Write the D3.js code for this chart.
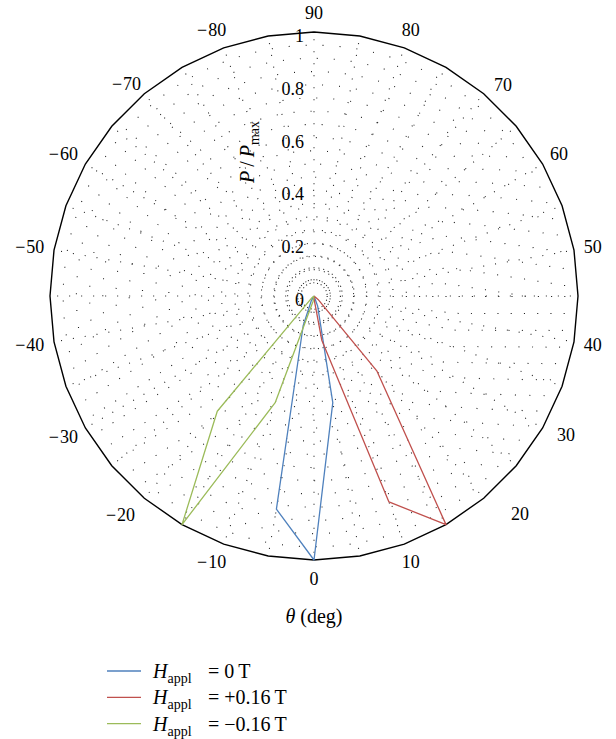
<!DOCTYPE html>
<html>
<head>
<meta charset="utf-8">
<script src="https://cdn.jsdelivr.net/npm/d3@7"></script>
<style>
body { margin: 0; background: #fff; }
text { font-family: "Liberation Serif", "DejaVu Serif", serif; fill: #000; }
</style>
</head>
<body>
<script>
// Polar plot of normalised power vs angle, three applied fields

// Data (theta in degrees, power as P/Pmax)
var thetaDeg = [-90, -85, -80, -75, -70, -65, -60, -55, -50, -45, -40, -35, -30,
    -25, -20, -15, -10, -5, 0, 5, 10, 15, 20, 25, 30, 35, 40, 45, 50, 55, 60,
    65, 70, 75, 80, 85, 90];

var powerZero = [0, 0, 0, 0, 0, 0, 0, 0, 0, 0, 0, 0, 0,
    0, 0, 0.02, 0.12, 0.82, 1.00, 0.41, 0.04, 0, 0, 0, 0, 0, 0, 0, 0, 0, 0,
    0, 0, 0, 0, 0, 0];
var powerPlus = [0, 0, 0, 0, 0, 0, 0, 0, 0, 0, 0, 0, 0,
    0, 0, 0, 0, 0, 0.01, 0.17, 0.83, 1.00, 0.37, 0.02, 0, 0, 0, 0, 0, 0, 0,
    0, 0, 0, 0, 0, 0];
var powerMinus = [0, 0, 0, 0, 0, 0, 0, 0, 0, 0, 0, 0, 0,
    0.01, 0.57, 1.00, 0.43, 0.02, 0, 0, 0, 0, 0, 0, 0, 0, 0, 0, 0, 0, 0,
    0, 0, 0, 0, 0, 0];

var angleTicks = [-80, -70, -60, -50, -40, -30, -20, -10, 0, 10, 20, 30, 40,
    50, 60, 70, 80, 90];
var radialTicks = [0, 0.2, 0.4, 0.6, 0.8, 1];
var gridAngles = d3.range(-90, 90, 5);
var gridRadii = d3.range(1, 20).map(function(i) { return i * 0.05; });

var seriesLabels = ["= 0\u2009T", "= +0.16\u2009T", "= \u22120.16\u2009T"];
var seriesColors = ["#4f81bd", "#c0504d", "#9bbb59"];
var seriesValues = [powerZero, powerPlus, powerMinus];

// Setup
var w = 616;
var h = 739;
var cx = 314;
var cy = 296;
var R = 264;

// a few tick labels sit a bit off the ring in the original
var labelNudge = {"20": [24, 1], "30": [7, -2], "70": [7, 6], "-20": [-6, 2], "-70": [0, 5]};

var rScale = d3.scaleLinear().domain([0, 1]).range([0, R]);

// screen angle: 0 deg at bottom, +90 at top going round the right side
function screenAngle(t) {
    return Math.PI - 2 * t * Math.PI / 180;
}
function px(t, r) { return cx + r * Math.sin(screenAngle(t)); }
function py(t, r) { return cy - r * Math.cos(screenAngle(t)); }

var svg = d3.select("body").append("svg")
    .attr("width", w)
    .attr("height", h);

var plot = svg.append("g")
    .attr("transform", "translate(" + cx + "," + cy + ")");

// Dotted grid
var grid = plot.append("g")
    .attr("fill", "none")
    .attr("stroke", "#222")
    .attr("stroke-width", 1.1);

grid.selectAll("circle")
    .data(gridRadii)
    .enter()
    .append("circle")
    .attr("r", function(d) { return rScale(d); })
    .attr("stroke-dasharray", function(d) {
        var gap = Math.min(16, 1.5 + rScale(d) * 0.1);
        return "1," + gap.toFixed(2);
    });

grid.selectAll("line")
    .data(gridAngles)
    .enter()
    .append("line")
    .attr("x1", function(d) { return px(d, rScale(0.06)) - cx; })
    .attr("y1", function(d) { return py(d, rScale(0.06)) - cy; })
    .attr("x2", function(d) { return px(d, rScale(0.99)) - cx; })
    .attr("y2", function(d) { return py(d, rScale(0.99)) - cy; })
    .attr("stroke-dasharray", "1,11");

// Outer frame (polygon through every grid angle)
var frameLine = d3.lineRadial()
    .angle(function(d) { return screenAngle(d); })
    .radius(rScale(1))
    .curve(d3.curveLinearClosed);

plot.append("path")
    .attr("d", frameLine(gridAngles))
    .attr("fill", "none")
    .attr("stroke", "#000")
    .attr("stroke-width", 1.4);

// Radial tick labels
plot.selectAll("text.rtick")
    .data(radialTicks)
    .enter()
    .append("text")
    .attr("class", "rtick")
    .attr("x", -10)
    .attr("y", function(d) { return -rScale(d) + 4; })
    .attr("dy", "0.33em")
    .attr("text-anchor", "end")
    .style("font-size", "18px")
    .text(function(d) { return d; });

// Angle tick labels (digits centred, minus hangs to the left)
var labelDist = 283;
var angleLabels = svg.selectAll("g.atick")
    .data(angleTicks)
    .enter()
    .append("g")
    .attr("class", "atick")
    .attr("transform", function(d) {
        var n = labelNudge[d] || [0, 0];
        return "translate(" + (px(d, labelDist) + n[0]) + "," + (py(d, labelDist) + n[1]) + ")";
    });

angleLabels.append("text")
    .attr("text-anchor", "middle")
    .attr("dy", "0.33em")
    .style("font-size", "18px")
    .text(function(d) { return Math.abs(d); });

angleLabels.filter(function(d) { return d < 0; })
    .append("text")
    .attr("text-anchor", "end")
    .attr("dy", "0.33em")
    .style("font-size", "18px")
    .attr("x", function() {
        var digits = d3.select(this.parentNode).select("text").node();
        return -digits.getComputedTextLength() / 2 - 1;
    })
    .text("\u2212");

// Radial axis title
var rTitle = svg.append("text")
    .attr("transform", "translate(254,152) rotate(-90)")
    .attr("text-anchor", "middle")
    .style("font-size", "20px");
rTitle.append("tspan").style("font-style", "italic").text("P");
rTitle.append("tspan").text("\u2009/\u2009");
rTitle.append("tspan").style("font-style", "italic").text("P");
rTitle.append("tspan").attr("dy", 5).style("font-size", "14px").text("max");

// Angle axis title
var tTitle = svg.append("text")
    .attr("x", 314)
    .attr("y", 623)
    .attr("text-anchor", "middle")
    .style("font-size", "20px");
tTitle.append("tspan").style("font-style", "italic").text("\u03b8");
tTitle.append("tspan").text(" (deg)");

// Series
var seriesLine = d3.lineRadial()
    .angle(function(d, i) { return screenAngle(thetaDeg[i]); })
    .radius(function(d) { return rScale(d); });

plot.selectAll("path.series")
    .data(seriesValues)
    .enter()
    .append("path")
    .attr("class", "series")
    .attr("d", function(d) { return seriesLine(d); })
    .attr("fill", "none")
    .attr("stroke", function(d, i) { return seriesColors[i]; })
    .attr("stroke-width", 1.3)
    .attr("stroke-linejoin", "round");

// Legend
var legend = svg.selectAll("g.legend")
    .data(seriesLabels)
    .enter()
    .append("g")
    .attr("class", "legend")
    .attr("transform", function(d, i) {
        return "translate(0," + (671 + i * 26.3) + ")";
    });

legend.append("line")
    .attr("x1", 107)
    .attr("x2", 141)
    .attr("stroke", function(d, i) { return seriesColors[i]; })
    .attr("stroke-width", 1.3);

var legendText = legend.append("text")
    .attr("x", 153)
    .attr("y", 7)
    .style("font-size", "20px");
legendText.append("tspan").style("font-style", "italic").text("H");
legendText.append("tspan").attr("dy", 5).style("font-size", "14px").text("appl");
legendText.append("tspan").attr("x", 208).attr("dy", -5).text(function(d) { return d; });
</script>
</body>
</html>
